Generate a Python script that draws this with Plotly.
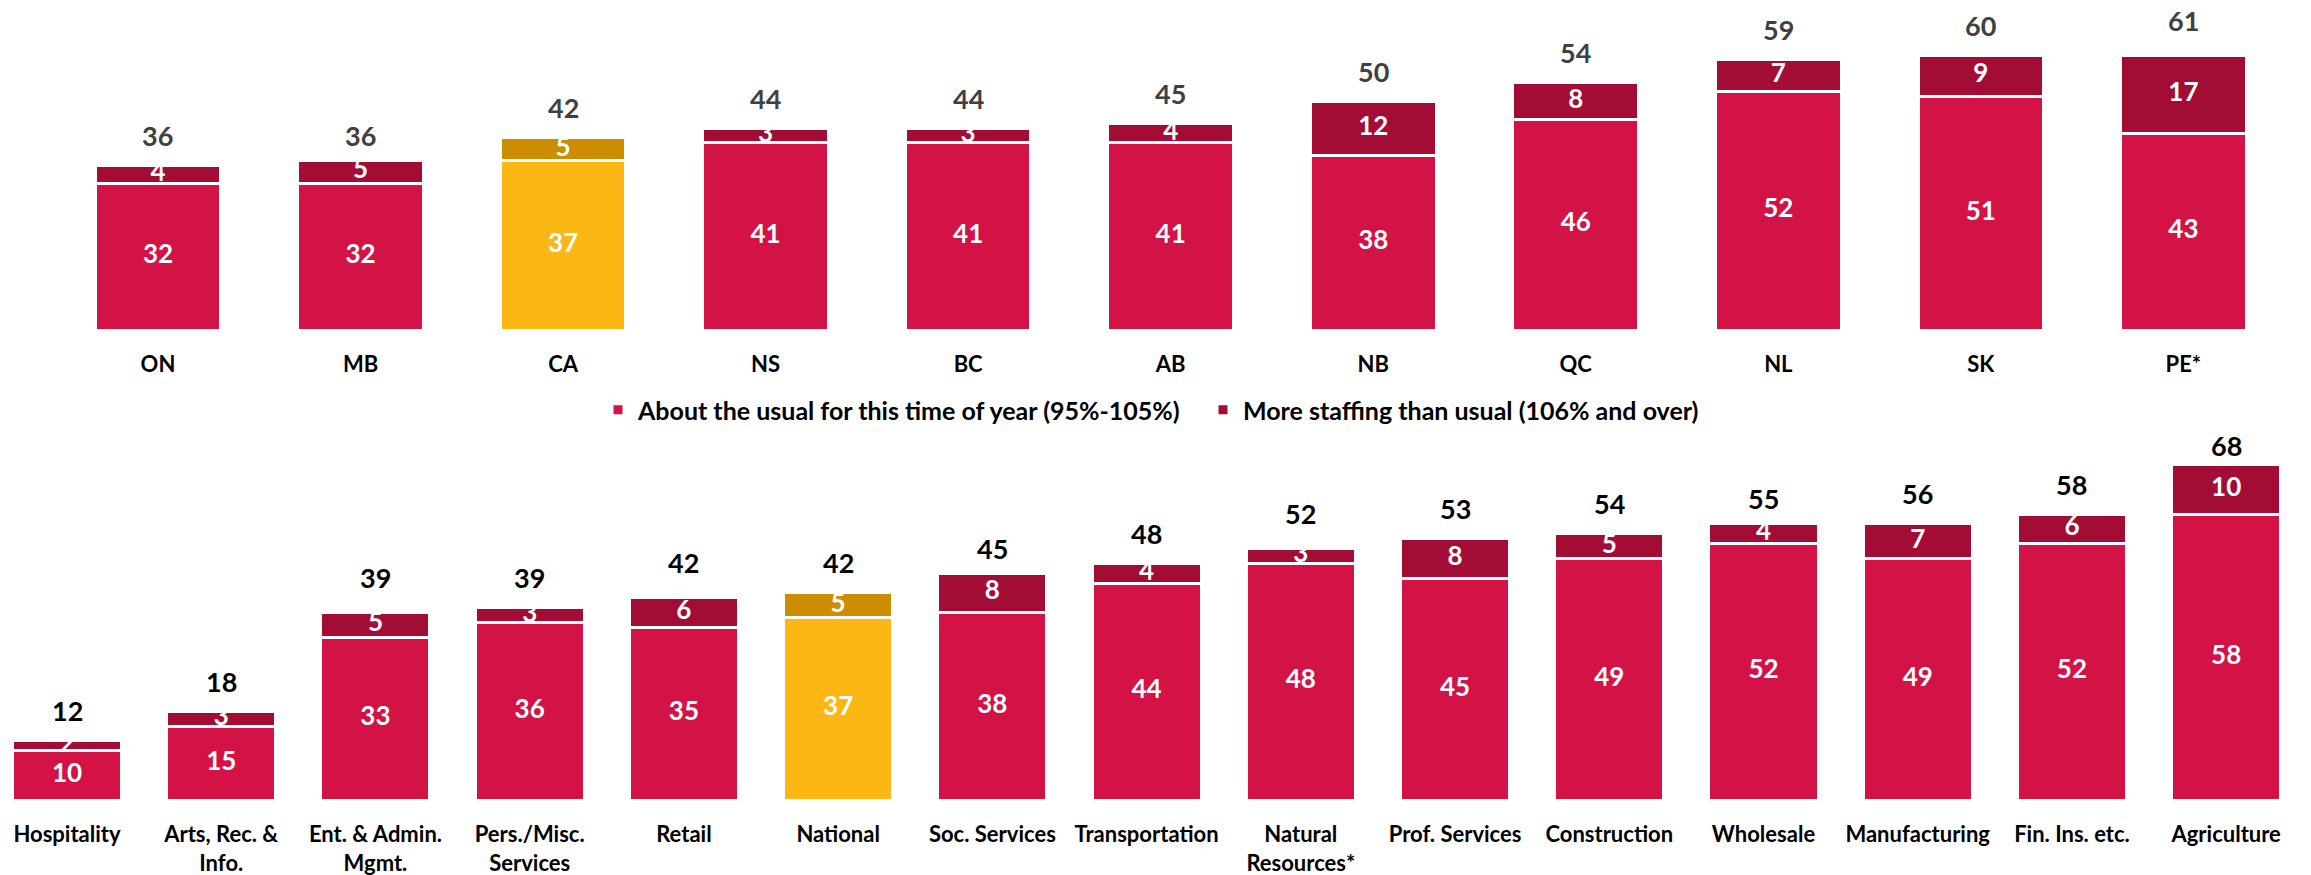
import plotly.graph_objects as go

# ---------------- data ----------------
prov_labels = ["ON", "MB", "CA", "NS", "BC", "AB", "NB", "QC", "NL", "SK", "PE*"]
prov_usual = [32, 32, 37, 41, 41, 41, 38, 46, 52, 51, 43]
prov_more = [4, 5, 5, 3, 3, 4, 12, 8, 7, 9, 17]
prov_total = [36, 36, 42, 44, 44, 45, 50, 54, 59, 60, 61]

sect_labels = ["Hospitality", "Arts, Rec. &<br>Info.", "Ent. & Admin.<br>Mgmt.",
               "Pers./Misc.<br>Services", "Retail", "National", "Soc. Services",
               "Transportation", "Natural<br>Resources*", "Prof. Services",
               "Construction", "Wholesale", "Manufacturing", "Fin. Ins. etc.",
               "Agriculture"]
sect_usual = [10, 15, 33, 36, 35, 37, 38, 44, 48, 45, 49, 52, 49, 52, 58]
sect_more = [2, 3, 5, 3, 6, 5, 8, 4, 3, 8, 5, 4, 7, 6, 10]
sect_total = [12, 18, 39, 39, 42, 42, 45, 48, 52, 53, 54, 55, 56, 58, 68]

highlight = ["CA", "National"]
series_names = ["About the usual for this time of year (95%-105%)",
                "More staffing than usual (106% and over)"]

# ---------------- style ----------------
RED = "#D31245"
DARK = "#A20C35"
GOLD = "#FDB714"
GOLD_DARK = "#CC8E00"
FONT = "Lato"

W, H = 2311, 875

# panel geometry (pixels)
TOP_BASE, TOP_SCALE = 330, 4.58          # baseline y px, px per unit
BOT_BASE, BOT_SCALE, BOT_TOP = 800, 4.93, 430
TOP_YMAX = TOP_BASE / TOP_SCALE
BOT_YMAX = (BOT_BASE - BOT_TOP) / BOT_SCALE

fig = go.Figure()


def add_panel(labels, usual, more, total, xa, ya, width, total_color, legend, scale, ymax):
    c1 = [GOLD if l in highlight else RED for l in labels]
    c2 = [GOLD_DARK if l in highlight else DARK for l in labels]
    fig.add_trace(go.Bar(x=labels, y=usual, name=series_names[0],
                         marker=dict(color=c1, line=dict(color="white", width=3)),
                         width=width, xaxis=xa, yaxis=ya, showlegend=legend, legendrank=1))
    fig.add_trace(go.Bar(x=labels, y=more, name=series_names[1],
                         marker=dict(color=c2, line=dict(color="white", width=3)),
                         width=width, xaxis=xa, yaxis=ya, showlegend=legend, legendrank=2))
    mid1 = [u / 2 for u in usual]
    mid2 = [u + m / 2 for u, m in zip(usual, more)]
    tf = dict(color="white", size=26, family=FONT, weight="bold")
    fig.add_trace(go.Scatter(x=labels, y=mid1, text=[str(v) for v in usual], mode="text",
                             textfont=tf, xaxis=xa, yaxis=ya, showlegend=False, hoverinfo="skip"))
    fig.add_trace(go.Scatter(x=labels, y=mid2, text=[str(v) for v in more], mode="text",
                             textfont=tf, xaxis=xa, yaxis=ya, showlegend=False, hoverinfo="skip"))
    cap = ymax - 15 / scale
    for l, t in zip(labels, total):
        fig.add_annotation(x=l, y=min(t + 30 / scale, cap), text=str(t), xref=xa, yref=ya,
                           showarrow=False, yanchor="middle",
                           font=dict(color=total_color, size=27, family=FONT, weight="bold"))


add_panel(prov_labels, prov_usual, prov_more, prov_total, "x", "y", 0.62, "#404040", False,
          TOP_SCALE, TOP_YMAX)
add_panel(sect_labels, sect_usual, sect_more, sect_total, "x2", "y2", 0.707, "#000000", True,
          BOT_SCALE, BOT_YMAX)

tickfont = dict(size=22, family=FONT, color="#000000", weight="bold")
fig.update_layout(
    width=W, height=H,
    margin=dict(l=0, r=0, t=0, b=0),
    paper_bgcolor="white", plot_bgcolor="white",
    barmode="stack",
    font=dict(family=FONT, size=22, color="#000000", weight="bold"),
    legend=dict(orientation="h", x=598 / W, xanchor="left", y=1 - 410 / H, yanchor="middle",
                font=dict(size=25, color="#000000", family=FONT, weight="bold"),
                itemwidth=30, traceorder="normal", entrywidth=560, entrywidthmode="pixels"),
    xaxis=dict(domain=[0, 1], range=[-0.78, 10.63], showgrid=False, zeroline=False, showline=False,
               ticks="outside", ticklen=15, tickcolor="rgba(0,0,0,0)", tickfont=tickfont, anchor="y"),
    yaxis=dict(domain=[1 - TOP_BASE / H, 1], range=[0, TOP_YMAX], visible=False, anchor="x"),
    xaxis2=dict(domain=[0, 1], range=[-0.4345, 14.55], showgrid=False, zeroline=False, showline=False,
                ticks="outside", ticklen=15, tickcolor="rgba(0,0,0,0)", tickfont=tickfont, anchor="y2"),
    yaxis2=dict(domain=[1 - BOT_BASE / H, 1 - BOT_TOP / H], range=[0, BOT_YMAX], visible=False,
                anchor="x2"),
)

fig.write_html("out.html",
               config={"displayModeBar": False},
               post_script="document.body.style.margin='0';document.body.style.overflow='hidden';")
